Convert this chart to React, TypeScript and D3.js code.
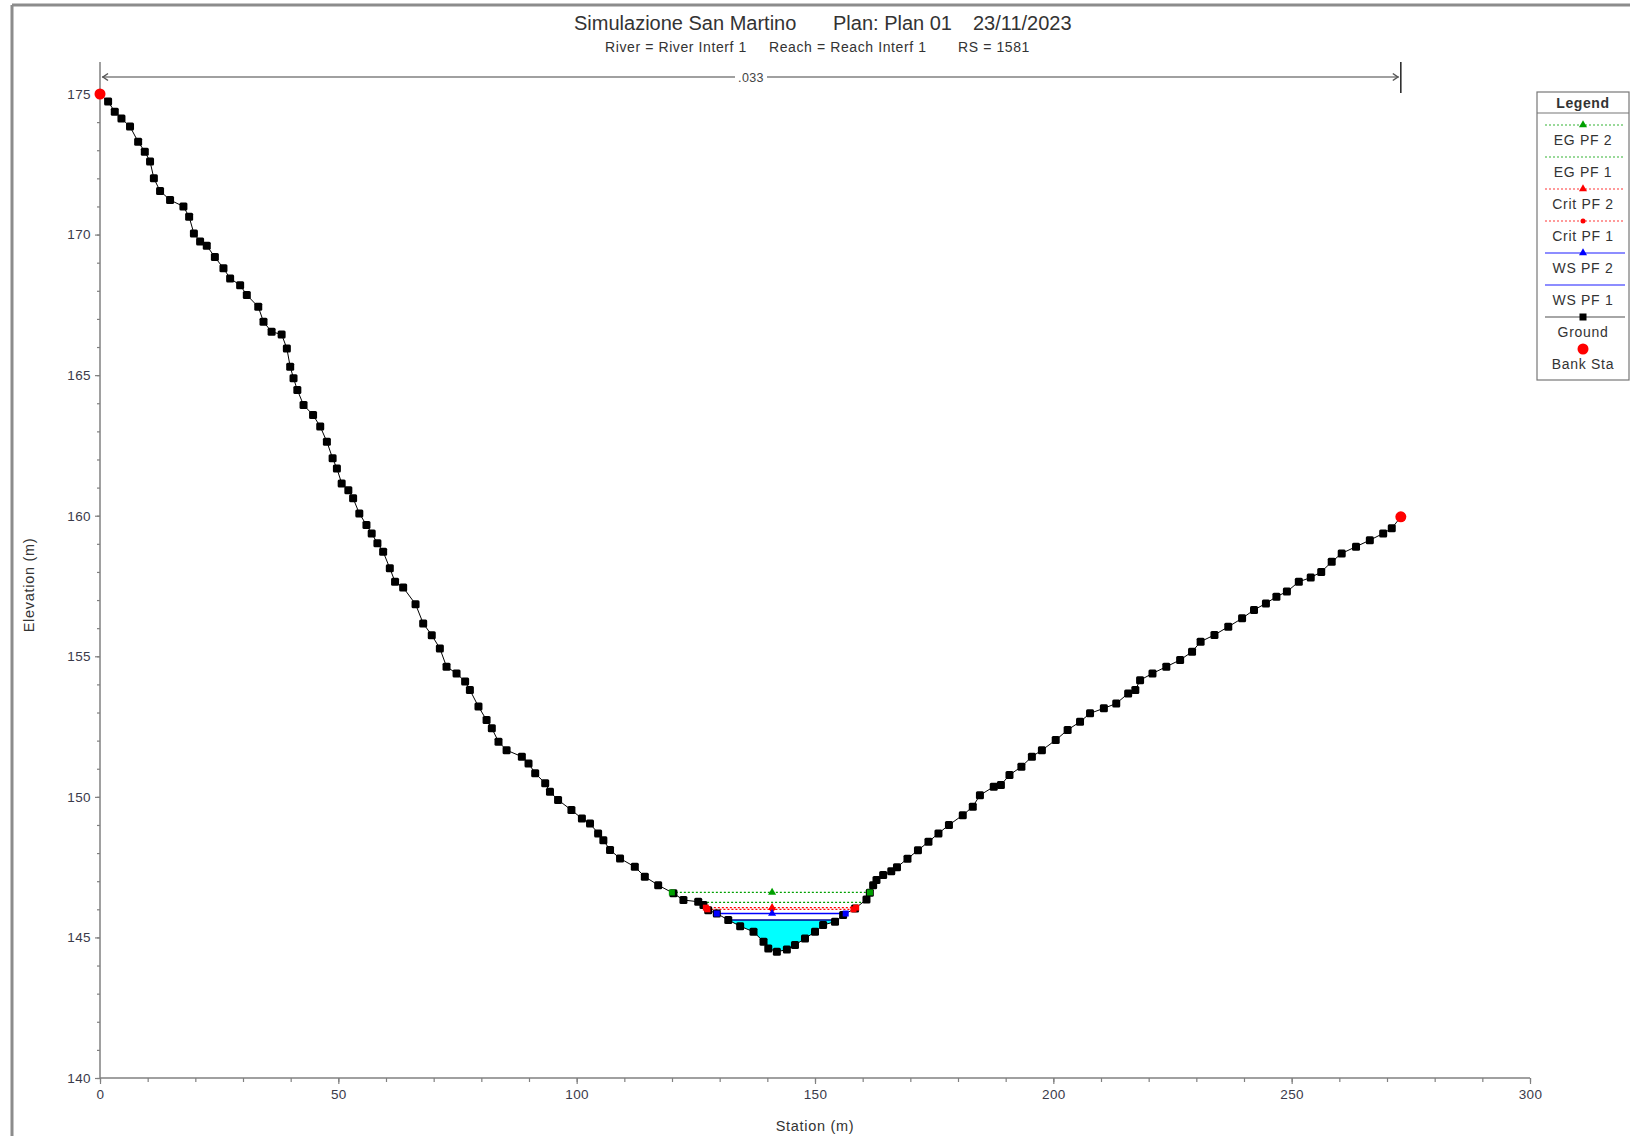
import { useEffect, useRef } from "react";
import * as d3 from "d3";

// ground profile: [station (m), elevation (m)]
const ground: [number, number][] = [
  [0, 175], [1.7, 174.73], [3.1, 174.37], [4.5, 174.13], [6.3, 173.84], [8.0, 173.3],
  [9.4, 172.95], [10.5, 172.6], [11.3, 172.0], [12.6, 171.55], [14.7, 171.23], [17.5, 171.0],
  [18.7, 170.63], [19.7, 170.04], [21.0, 169.75], [22.4, 169.6], [24.1, 169.2], [25.9, 168.8],
  [27.3, 168.44], [29.4, 168.2], [30.8, 167.85], [33.2, 167.43], [34.3, 166.9], [36.0, 166.54],
  [38.1, 166.45], [39.2, 165.95], [39.9, 165.3], [40.6, 164.89], [41.4, 164.47], [42.7, 163.94],
  [44.7, 163.58], [46.2, 163.17], [47.6, 162.63], [48.8, 162.04], [49.7, 161.68], [50.7, 161.15],
  [52.1, 160.91], [53.1, 160.62], [54.4, 160.08], [55.9, 159.67], [57.0, 159.37], [58.2, 159.02],
  [59.4, 158.72], [60.8, 158.13], [61.9, 157.65], [63.6, 157.45], [66.2, 156.85], [67.8, 156.17],
  [69.6, 155.75], [71.3, 155.28], [72.7, 154.63], [74.8, 154.39], [76.6, 154.1], [77.6, 153.8],
  [79.4, 153.21], [81.1, 152.73], [82.2, 152.44], [83.6, 151.96], [85.3, 151.66], [88.5, 151.43],
  [89.9, 151.19], [91.3, 150.84], [93.4, 150.48], [94.4, 150.18], [96.1, 149.89], [98.9, 149.53],
  [101.1, 149.23], [102.8, 149.05], [104.5, 148.7], [105.6, 148.46], [107.0, 148.11], [109.1, 147.81],
  [112.2, 147.51], [114.3, 147.16], [117.1, 146.86], [120.3, 146.57], [122.4, 146.33], [125.5, 146.27],
  [126.6, 146.15], [127.6, 145.97], [129.4, 145.85], [131.8, 145.62], [134.3, 145.4], [137.1, 145.2],
  [139.2, 144.85], [140.2, 144.61], [142.0, 144.49], [144.1, 144.57], [145.8, 144.73], [147.9, 144.96],
  [150.0, 145.2], [151.7, 145.44], [154.2, 145.56], [155.9, 145.8], [158.4, 146.03], [160.8, 146.35],
  [161.5, 146.59], [162.2, 146.86], [162.9, 147.04], [164.3, 147.22], [166.0, 147.35], [167.2, 147.5],
  [169.4, 147.8], [171.6, 148.1], [173.8, 148.4], [175.9, 148.7], [178.1, 149.0], [181.0, 149.35],
  [183.1, 149.65], [184.6, 150.06], [187.5, 150.36], [189.0, 150.42], [190.8, 150.78], [193.3, 151.07],
  [195.5, 151.43], [197.6, 151.66], [200.5, 152.02], [203.0, 152.38], [205.6, 152.67], [207.7, 152.97],
  [210.6, 153.15], [213.2, 153.32], [215.7, 153.68], [217.2, 153.8], [218.2, 154.15], [220.8, 154.39],
  [223.7, 154.63], [226.6, 154.87], [229.1, 155.16], [230.9, 155.52], [233.8, 155.76], [236.7, 156.05],
  [239.6, 156.35], [242.1, 156.65], [244.6, 156.88], [246.8, 157.12], [249.0, 157.3], [251.5, 157.65],
  [254.0, 157.8], [256.2, 158.0], [258.4, 158.36], [260.5, 158.66], [263.5, 158.9], [266.4, 159.13],
  [269.2, 159.37], [271.0, 159.55], [272.9, 159.96],
];

const bankStations = [0, 272.9];
const bankElevations = [175, 159.96];

// water surface profiles, top to bottom
const profileNames = ["EG PF 2", "EG PF 1", "Crit PF 2", "Crit PF 1", "WS PF 2", "WS PF 1"];
const profileElevations = [146.6, 146.25, 146.06, 146.0, 145.85, 145.62];

const legendNames = [...profileNames, "Ground", "Bank Sta"];
const xTicks = [0, 50, 100, 150, 200, 250, 300];
const yTicks = [140, 145, 150, 155, 160, 165, 170, 175];
const manningN = ".033";

const FONT = "'Liberation Sans', Arial, sans-serif";

// style per profile (colour, dashed, marker)
const profileStyle = [
  { color: "#00a000", dash: "2,2", marker: "tri" },
  { color: "#00a000", dash: "2,2", marker: "" },
  { color: "#ff0000", dash: "2,2", marker: "tri" },
  { color: "#ff0000", dash: "2,2", marker: "dot" },
  { color: "#0000ff", dash: "", marker: "tri" },
  { color: "#0000ff", dash: "", marker: "" },
];

function crossings(level: number): [number, number] {
  // find where the ground rises to `level` on both sides of the thalweg
  let iMin = 0;
  ground.forEach((g, i) => {
    if (g[1] < ground[iMin][1]) iMin = i;
  });
  let xl = ground[0][0];
  for (let i = iMin; i > 0; i--) {
    const [x1, y1] = ground[i - 1];
    const [x2, y2] = ground[i];
    if (y1 >= level && y2 < level) {
      xl = x1 + ((level - y1) / (y2 - y1)) * (x2 - x1);
      break;
    }
  }
  let xr = ground[ground.length - 1][0];
  for (let i = iMin; i < ground.length - 1; i++) {
    const [x1, y1] = ground[i];
    const [x2, y2] = ground[i + 1];
    if (y1 < level && y2 >= level) {
      xr = x1 + ((level - y1) / (y2 - y1)) * (x2 - x1);
      break;
    }
  }
  return [xl, xr];
}

function CrossSection() {
  const svgRef = useRef<SVGSVGElement | null>(null);

  useEffect(() => {
    const svg = d3.select(svgRef.current);
    svg.selectAll("*").remove();

    const x = d3.scaleLinear().domain([0, 300]).range([100, 1530]);
    const y = d3.scaleLinear().domain([140, 175]).range([1078, 94]);

    // window frame
    svg.append("line").attr("x1", 12).attr("x2", 1630).attr("y1", 5).attr("y2", 5)
      .attr("stroke", "#8c8c8c").attr("stroke-width", 3);
    svg.append("line").attr("x1", 12).attr("x2", 12).attr("y1", 5).attr("y2", 1136)
      .attr("stroke", "#8c8c8c").attr("stroke-width", 3);

    // titles
    const title = svg.append("g").attr("font-family", FONT).attr("fill", "#333");
    [["Simulazione San Martino", 574], ["Plan: Plan 01", 833], ["23/11/2023", 973]].forEach(([t, px]) => {
      title.append("text").attr("x", px).attr("y", 30).attr("font-size", 20).text(t as string);
    });
    [["River = River Interf 1", 605], ["Reach = Reach Interf 1", 769], ["RS = 1581", 958]].forEach(([t, px]) => {
      title.append("text").attr("x", px).attr("y", 52).attr("font-size", 14)
        .attr("letter-spacing", 0.6).text(t as string);
    });

    // axes
    const axisColor = "#808080";
    svg.append("line").attr("x1", x(0)).attr("x2", x(0)).attr("y1", 62).attr("y2", y(140))
      .attr("stroke", axisColor).attr("stroke-width", 1.5);
    svg.append("line").attr("x1", x(0)).attr("x2", x(300)).attr("y1", y(140)).attr("y2", y(140))
      .attr("stroke", axisColor).attr("stroke-width", 1.5);

    const yMajor = svg.append("g").attr("transform", `translate(${x(0)},0)`)
      .call(d3.axisLeft(y).tickValues(yTicks).tickSize(5).tickPadding(4).tickFormat(d3.format("d")));
    const yMinor = svg.append("g").attr("transform", `translate(${x(0)},0)`)
      .call(d3.axisLeft(y).tickValues(d3.range(140, 176, 1)).tickSize(3).tickFormat(() => ""));
    const xMajor = svg.append("g").attr("transform", `translate(0,${y(140)})`)
      .call(d3.axisBottom(x).tickValues(xTicks).tickSize(6).tickPadding(5).tickFormat(d3.format("d")));
    const xMinor = svg.append("g").attr("transform", `translate(0,${y(140)})`)
      .call(d3.axisBottom(x).tickValues(d3.range(0, 301, 10)).tickSize(4).tickFormat(() => ""));
    [yMajor, yMinor, xMajor, xMinor].forEach((g) => {
      g.select(".domain").remove();
      g.selectAll("line").attr("stroke", axisColor).attr("stroke-width", 1.2);
      g.selectAll("text").attr("font-family", FONT).attr("font-size", 13.5)
        .attr("letter-spacing", 0.4).attr("fill", "#3a3a4a");
    });

    svg.append("text").attr("x", 815).attr("y", 1131).attr("text-anchor", "middle")
      .attr("font-family", FONT).attr("font-size", 14.5).attr("letter-spacing", 0.7)
      .attr("fill", "#333").text("Station (m)");
    svg.append("text").attr("transform", `translate(34,585) rotate(-90)`).attr("text-anchor", "middle")
      .attr("font-family", FONT).attr("font-size", 14.5).attr("letter-spacing", 0.7)
      .attr("fill", "#333").text("Elevation (m)");

    // Manning's n range bar between bank stations
    const barY = 77;
    const xb0 = x(bankStations[0]);
    const xb1 = x(bankStations[1]);
    const nx = 751;
    svg.append("line").attr("x1", xb0 + 2).attr("x2", nx - 16).attr("y1", barY).attr("y2", barY)
      .attr("stroke", "#a0a0a0").attr("stroke-width", 2);
    svg.append("line").attr("x1", nx + 16).attr("x2", xb1 - 2).attr("y1", barY).attr("y2", barY)
      .attr("stroke", "#a0a0a0").attr("stroke-width", 2);
    svg.append("text").attr("x", nx).attr("y", barY + 4.5).attr("text-anchor", "middle")
      .attr("font-family", FONT).attr("font-size", 12.5).attr("letter-spacing", 0.4)
      .attr("fill", "#444").text(manningN);
    svg.append("path").attr("d", `M${xb0 + 8},${barY - 3.5}L${xb0 + 3},${barY}L${xb0 + 8},${barY + 3.5}`)
      .attr("fill", "none").attr("stroke", "#555").attr("stroke-width", 1.5);
    svg.append("path").attr("d", `M${xb1 - 8},${barY - 3.5}L${xb1 - 3},${barY}L${xb1 - 8},${barY + 3.5}`)
      .attr("fill", "none").attr("stroke", "#555").attr("stroke-width", 1.5);
    svg.append("line").attr("x1", xb1).attr("x2", xb1).attr("y1", 62).attr("y2", 93)
      .attr("stroke", "#222").attr("stroke-width", 1.5);

    // water fill under the lowest water surface
    const wsLevel = profileElevations[profileElevations.length - 1];
    const [wl, wr] = crossings(wsLevel);
    const fillPts: [number, number][] = [
      [wl, wsLevel],
      ...ground.filter((g) => g[0] > wl && g[0] < wr),
      [wr, wsLevel],
    ];
    const line = d3.line<[number, number]>().x((d) => x(d[0])).y((d) => y(d[1]));
    svg.append("path").attr("d", line(fillPts) + "Z").attr("fill", "#00ffff").attr("stroke", "none");

    const tri = d3.symbol().type(d3.symbolTriangle).size(28);
    const markerAt = (g: any, kind: string, color: string, px: number, py: number) => {
      if (kind === "tri") {
        g.append("path").attr("d", tri()).attr("transform", `translate(${px},${py})`).attr("fill", color);
      } else if (kind === "dot") {
        g.append("circle").attr("cx", px).attr("cy", py).attr("r", 2.5).attr("fill", color);
      }
    };

    // water surface lines (drawn bottom-up so upper lines stay on top)
    const wsG = svg.append("g");
    const midStation = 141;
    profileElevations.map((e, i) => ({ e, i })).reverse().forEach(({ e, i }) => {
      const st = profileStyle[i];
      const [a, b] = crossings(e);
      wsG.append("line").attr("x1", x(a)).attr("x2", x(b)).attr("y1", y(e)).attr("y2", y(e))
        .attr("stroke", i === 5 ? "#00008b" : st.color).attr("stroke-width", st.dash ? 1.2 : 1.5)
        .attr("stroke-dasharray", st.dash || null);
    });

    // ground
    svg.append("path").attr("d", line(ground)).attr("fill", "none").attr("stroke", "#000").attr("stroke-width", 1);
    svg.append("g").selectAll("rect").data(ground).enter().append("rect")
      .attr("x", (d) => x(d[0]) - 4).attr("y", (d) => y(d[1]) - 4)
      .attr("width", 8).attr("height", 8).attr("rx", 1.5).attr("fill", "#000");

    // profile markers at the middle and where they meet the ground
    profileElevations.forEach((e, i) => {
      const st = profileStyle[i];
      const [a, b] = crossings(e);
      markerAt(wsG, st.marker, st.color, x(midStation), y(e));
      if (st.marker) {
        [a, b].forEach((s) => {
          svg.append("rect").attr("x", x(s) - 3).attr("y", y(e) - 3).attr("width", 6).attr("height", 6)
            .attr("fill", st.color);
        });
      }
    });

    // bank stations
    svg.append("g").selectAll("circle").data(bankStations).enter().append("circle")
      .attr("cx", (d) => x(d)).attr("cy", (_d, i) => y(bankElevations[i])).attr("r", 5.5).attr("fill", "#ff0000");

    // legend
    const lg = svg.append("g").attr("font-family", FONT);
    const lx = 1537;
    const lw = 92;
    lg.append("rect").attr("x", lx).attr("y", 92).attr("width", lw).attr("height", 288)
      .attr("fill", "#fff").attr("stroke", "#777").attr("stroke-width", 1.2);
    lg.append("line").attr("x1", lx).attr("x2", lx + lw).attr("y1", 113).attr("y2", 113)
      .attr("stroke", "#777").attr("stroke-width", 1.2);
    lg.append("text").attr("x", lx + lw / 2).attr("y", 108).attr("text-anchor", "middle")
      .attr("font-size", 14).attr("font-weight", "bold").attr("letter-spacing", 0.6)
      .attr("fill", "#333").text("Legend");
    const cx = lx + lw / 2;
    legendNames.forEach((name, i) => {
      const ly = 125 + i * 32;
      if (i < profileNames.length) {
        const st = profileStyle[i];
        lg.append("line").attr("x1", lx + 8).attr("x2", lx + lw - 4).attr("y1", ly).attr("y2", ly)
          .attr("stroke", st.color).attr("stroke-width", st.dash ? 1.2 : 1.5)
          .attr("stroke-opacity", st.dash ? 0.8 : 0.6)
          .attr("stroke-dasharray", st.dash || null);
        markerAt(lg, st.marker, st.color, cx, ly);
      } else if (name === "Ground") {
        lg.append("line").attr("x1", lx + 8).attr("x2", lx + lw - 4).attr("y1", ly).attr("y2", ly)
          .attr("stroke", "#888").attr("stroke-width", 1.5);
        lg.append("rect").attr("x", cx - 3.5).attr("y", ly - 3.5).attr("width", 7).attr("height", 7).attr("fill", "#000");
      } else {
        lg.append("circle").attr("cx", cx).attr("cy", ly).attr("r", 5.5).attr("fill", "#ff0000");
      }
      lg.append("text").attr("x", cx).attr("y", ly + 19.5).attr("text-anchor", "middle")
        .attr("font-size", 14).attr("letter-spacing", 0.7).attr("fill", "#333").text(name);
    });
  }, []);

  return (
    <svg
      ref={svgRef}
      width={1630}
      height={1136}
      style={{ position: "absolute", left: 0, top: 0, display: "block", background: "#fff" }}
    />
  );
}

export default function App() {
  return <CrossSection />;
}
